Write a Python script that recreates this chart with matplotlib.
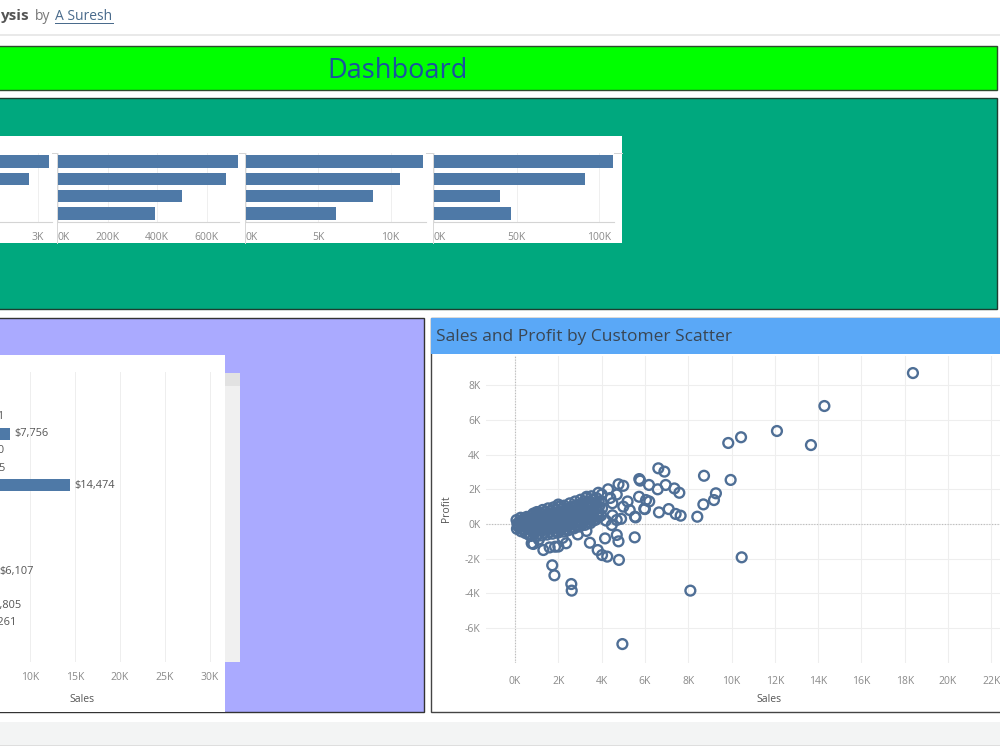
import matplotlib
matplotlib.use("Agg")
import matplotlib.pyplot as plt
from matplotlib.patches import Rectangle
from matplotlib.lines import Line2D
from matplotlib.ticker import FuncFormatter

plt.rcParams['font.family'] = ['Open Sans', 'DejaVu Sans']

# ---------------- data ----------------
region_names = ["West", "East", "Central", "South"]
region_count = [3203, 2848, 2323, 1620]
region_sales = [725458, 678781, 501240, 391722]
region_quantity = [12266, 10618, 8780, 6209]
region_profit = [108418, 91523, 39706, 46749]

customer_rank = list(range(1, 18))
customer_sales = [1845, 2104, 2871, 7756, 2890, 3005, 14474, 1652, 1210,
                  2015, 1477, 6107, 1938, 4805, 4261, 2202, 1309]

scatter_sales = [
    90, 110, 70, 140,
    280, 320, 300, 260, 340,
    480, 520, 500, 540, 460,
    730, 770, 750, 720, 780, 760,
    980, 1020, 1000, 970, 1030, 1010,
    1230, 1270, 1250, 1240, 1260, 1280,
    1480, 1520, 1500, 1490, 1510, 1530,
    1730, 1770, 1750, 1740, 1760, 1780,
    1980, 2020, 2000, 1990, 2010, 2030, 2000,
    2230, 2270, 2250, 2240, 2260, 2280,
    2480, 2520, 2500, 2490, 2510, 2530,
    2730, 2770, 2750, 2740, 2760, 2780,
    2980, 3020, 3000, 2990, 3010, 3030,
    3230, 3270, 3250, 3240, 3260, 3280,
    3480, 3520, 3500, 3490, 3510, 3530,
    3730, 3770, 3750, 3740, 3760,
    3980, 4020, 4000, 4010,
    200, 210,
    400, 390, 410,
    620, 630, 610, 640,
    870, 860, 880, 870, 850,
    1120, 1110, 1130, 1120, 1140,
    1370, 1360, 1380, 1370, 1390,
    1620, 1610, 1630, 1620, 1640,
    1870, 1860, 1880, 1870, 1890,
    2120, 2110, 2130, 2120, 2140,
    2370, 2360, 2380, 2370, 2390,
    2620, 2610, 2630, 2620, 2640,
    2870, 2860, 2880, 2870, 2890,
    3120, 3110, 3130, 3120, 3140,
    3370, 3360, 3380, 3370, 3390,
    3620, 3610, 3630, 3620, 3640,
    3870, 3860, 3880, 3870,
    1310, 770, 850, 1850, 2360, 2000, 1600, 3460, 3820, 4020,
    4260, 4800, 4160, 4700, 4780, 5530, 1720, 1820, 2600, 2620,
    4960, 8100, 10470, 1100, 2200, 2900, 3300, 4470, 4700,
    6620, 6900, 5740, 5780, 6190, 6960, 6590, 7360, 7590, 8730,
    9280, 8700, 9190, 9850, 9960, 10440, 12100, 13670, 14290, 18380,
    8420, 7420, 7650, 7100, 6650, 6000, 5540, 5970, 5570, 4780,
    5000, 5730, 6050, 6200, 3850, 4400, 3310, 4700, 5000, 4300,
    4500, 4200, 4500, 4900, 5200, 5300,
]
scatter_profit = [
    -280, 20, 230, -120,
    -420, -110, 190, 360, 40,
    -520, -210, 110, 410, 260,
    -690, -400, -90, 210, 490, 330,
    -720, -410, -110, 190, 480, 690,
    -660, -350, -40, 260, 560, 810,
    -610, -300, 10, 310, 600, 900,
    -560, -240, 60, 350, 650, 960,
    -500, -190, 110, 410, 700, 1000, 1120,
    -440, -150, 160, 450, 760, 1060,
    -350, -40, 250, 560, 860, 1190,
    -250, 60, 350, 650, 960, 1300,
    -150, 150, 450, 760, 1060, 1400,
    -50, 250, 550, 860, 1150, 1500,
    50, 350, 650, 950, 1250, 1600,
    250, 550, 850, 1150, 1500,
    500, 900, 1300, 1700,
    -200, 100,
    -300, 0, 300,
    -600, -300, 0, 300,
    -550, -250, 50, 350, 600,
    -550, -250, 50, 350, 650,
    -500, -200, 100, 400, 700,
    -450, -150, 150, 450, 750,
    -400, -100, 200, 500, 800,
    -350, -50, 250, 550, 850,
    -300, 0, 300, 600, 900,
    -200, 100, 400, 700, 1000,
    -100, 200, 500, 800, 1100,
    0, 300, 600, 900, 1200,
    100, 400, 700, 1000, 1300,
    200, 500, 800, 1100, 1400,
    400, 700, 1000, 1300,
    -1500, -1110, -1150, -1310, -1110, -1300, -1350, -1080, -1500, -1790,
    -1880, -2070, -830, -630, -1000, -770, -2380, -2960, -3460, -3840,
    -6920, -3840, -1920, -900, -800, -600, -400, -60, 230,
    3210, 3020, 2590, 2500, 2250, 2250, 2000, 2050, 1800, 2780,
    1770, 1130, 1380, 4670, 2540, 5000, 5360, 4550, 6800, 8700,
    420, 580, 480, 860, 670, 860, 420, 880, 380, 2290,
    2200, 1570, 1380, 1300, 1800, 1500, 1570, 1700, 1000, 2000,
    1200, 200, 500, 300, 1300, 800,
]

# ---------------- figure helpers ----------------
W, H = 1000, 750
fig = plt.figure(figsize=(10, 7.5), dpi=100)
fig.patch.set_facecolor("white")
PX = 0.72  # points per pixel


def ax_at(x0, y0, x1, y1):
    return fig.add_axes([x0 / W, 1 - y1 / H, (x1 - x0) / W, (y1 - y0) / H])


def rect(x0, y0, x1, y1, fc, ec="none", lw=0, z=-5):
    fig.patches.append(Rectangle((x0 / W, 1 - y1 / H), (x1 - x0) / W, (y1 - y0) / H,
                                 transform=fig.transFigure, fc=fc, ec=ec, lw=lw, zorder=z))


def seg(x0, y0, x1, y1, color, lw=1, z=-4, ls="-"):
    fig.lines.append(Line2D([x0 / W, x1 / W], [1 - y0 / H, 1 - y1 / H],
                            transform=fig.transFigure, color=color, lw=lw * PX, zorder=z, ls=ls))


def ftext(x, y, s, **kw):
    return fig.text(x / W, 1 - y / H, s, **kw)


BAR = "#4e79a7"
TICK = "#8a8a8a"
kfmt = FuncFormatter(lambda v, p: f"{v / 1000:.0f}K")

# ---------------- header ----------------
ftext(0, 16, "ysis", fontsize=11, fontweight="bold", color="#555555", va="center", ha="left")
ftext(35, 16, "by", fontsize=10, color="#777777", va="center", ha="left")
ftext(55, 16, "A Suresh", fontsize=10, color="#4a6b8c", va="center", ha="left")
seg(55, 23, 113, 23, "#4a6b8c", lw=1, z=3)
seg(0, 35, 1000, 35, "#e2e2e2", lw=1.5)

# green banner
rect(-2, 46, 997, 90, "#00ff00", ec="#2d4a2d", lw=1)
ftext(398, 71, "Dashboard", fontsize=19.5, color="#1a52a0", va="center", ha="center")

# teal panel
rect(-2, 98, 997, 309, "#00a87e", ec="#1e3d30", lw=1)
rect(0, 136, 622, 243, "white")
seg(0, 153, 622, 153, "#d4d4d4")
for xs in (57, 245, 433):
    seg(xs, 153, xs, 243, "#d8d8d8")

top_specs = [
    (-131, 52, region_count, 3250, [3000]),
    (58, 239, region_sales, 730000, [0, 200000, 400000, 600000]),
    (246, 426, region_quantity, 12450, [0, 5000, 10000]),
    (434, 614, region_profit, 109000, [0, 50000, 100000]),
]
for x0, x1, vals, xmax, ticks in top_specs:
    ax = ax_at(x0, 153, x1, 222)
    ax.barh(range(len(vals)), vals, height=0.72, color=BAR, zorder=3)
    ax.set_ylim(len(vals) - 0.5, -0.5)
    ax.set_xlim(0, xmax)
    ax.set_xticks(ticks)
    ax.xaxis.set_major_formatter(kfmt)
    ax.set_yticks([])
    ax.tick_params(axis="x", length=0, pad=7, labelsize=7.5, labelcolor=TICK)
    ax.grid(axis="x", color="#efefef", lw=0.7)
    for s in ("top", "left", "right"):
        ax.spines[s].set_visible(False)
    ax.spines["bottom"].set_color("#d4d4d4")
    ax.set_facecolor("white")
    labs = ax.get_xticklabels()
    if x0 > 0:
        labs[0].set_ha("left")

# lavender panel
rect(-2, 318, 424, 712, "#aaaaff", ec="#333333", lw=1)
rect(0, 355, 225, 712, "white", z=-4)
rect(225, 373, 240, 662, "#f0f0f0", z=-4)
rect(225, 373, 240, 386, "#e2e2e2", z=-4)

axl = ax_at(-60, 372, 225, 662)
ypos = range(len(customer_sales))
axl.barh(ypos, customer_sales, height=0.7, color=BAR, zorder=3)
axl.set_ylim(16.28, -0.585)
axl.set_xlim(0, 31670)
axl.set_xticks([0, 5000, 10000, 15000, 20000, 25000, 30000])
axl.xaxis.set_major_formatter(kfmt)
axl.set_yticks([])
axl.tick_params(axis="x", length=0, pad=7, labelsize=7.5, labelcolor=TICK)
axl.grid(axis="x", color="#eeeeee", lw=0.7)
for s in axl.spines.values():
    s.set_visible(False)
axl.set_facecolor("white")
for i, v in enumerate(customer_sales):
    if v >= 2700:  # labels of shorter bars fall wholly left of the visible area
        axl.annotate(f"${v:,}", (v, i), xytext=(3, 0), textcoords="offset points",
                     va="center", ha="left", fontsize=7.9, color="#555555")
ftext(82, 700, "Sales", fontsize=7.5, color="#555555", ha="center", va="center")

# scatter panel
rect(431, 318, 1003, 712, "white", ec="#444444", lw=1)
rect(431, 318, 1003, 354, "#5aa8f7")
ftext(436, 337, "Sales and Profit by Customer Scatter", fontsize=12.5, color="#3a4653",
      ha="left", va="center")

axs = ax_at(486, 356, 1010, 663)
xr = 21.65 / 1000
yr = 17.35 / 1000
axs.set_xlim((486 - 515) / xr, (1010 - 515) / xr)
axs.set_ylim((524 - 663) / yr, (524 - 356) / yr)
axs.set_xticks(range(0, 22001, 2000))
axs.set_yticks(range(-6000, 8001, 2000))
axs.xaxis.set_major_formatter(kfmt)
axs.yaxis.set_major_formatter(kfmt)
axs.tick_params(length=0, labelsize=7.5, labelcolor=TICK)
axs.tick_params(axis="x", pad=9)
axs.tick_params(axis="y", pad=4)
axs.grid(color="#eeeeee", lw=0.8)
axs.set_axisbelow(True)
axs.axhline(0, color="#bbbbbb", lw=0.8, ls=(0, (1, 1.5)), zorder=1)
axs.axvline(0, color="#bbbbbb", lw=0.8, ls=(0, (1, 1.5)), zorder=1)
for s in axs.spines.values():
    s.set_visible(False)
axs.set_facecolor("white")
axs.scatter(scatter_sales, scatter_profit, s=50, facecolors="none",
            edgecolors="#4f6f96", linewidths=1.7, zorder=3)
ftext(446, 509, "Profit", fontsize=7.5, color="#555555", rotation=90, ha="center", va="center")
ftext(769, 700, "Sales", fontsize=7.5, color="#555555", ha="center", va="center")

# bottom strip
rect(0, 722, 1000, 745, "#f3f4f4")
seg(0, 745, 1000, 745, "#dedede")

fig.savefig("out.png", dpi=100)
